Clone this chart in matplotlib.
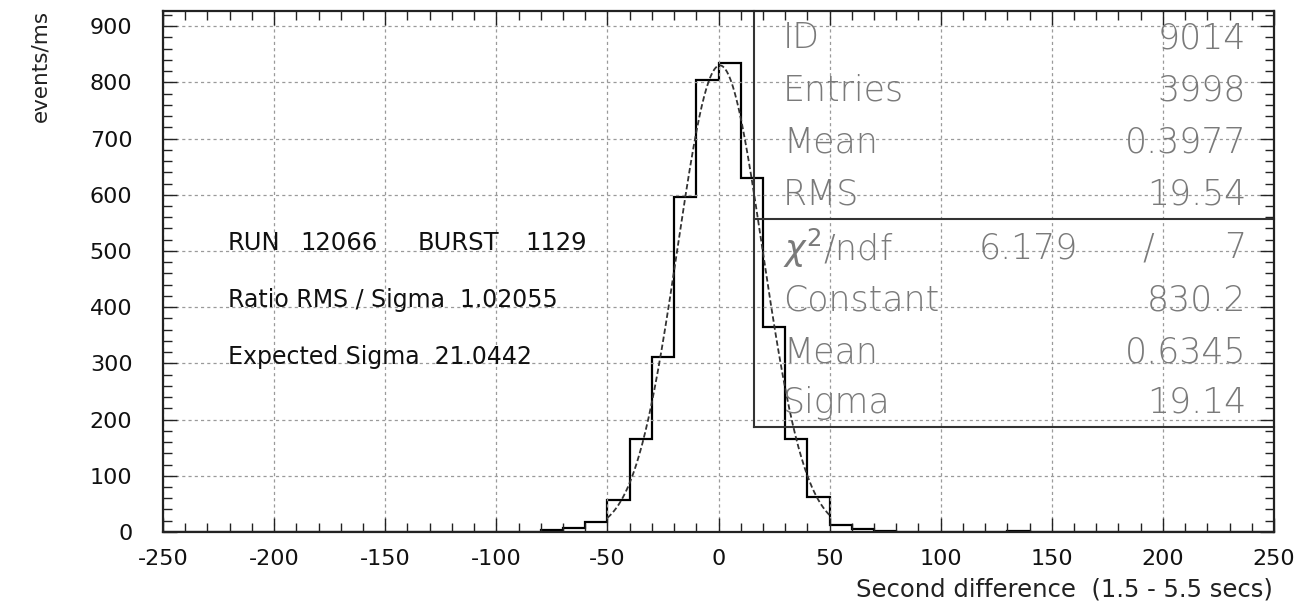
import numpy as np
import matplotlib
matplotlib.use('Agg')
import matplotlib.pyplot as plt
from matplotlib.ticker import MultipleLocator

# histogram: 10-unit bins from -250 to 250, only non-empty bins listed
bin_lo = [-80, -70, -60, -50, -40, -30, -20, -10, 0, 10, 20, 30, 40, 50, 60, 70, 130]
counts = [3, 7, 17, 57, 165, 311, 596, 804, 834, 630, 365, 165, 62, 12, 6, 2, 2]

# gaussian fit parameters
fit_const = 830.2
fit_mean = 0.6345
fit_sigma = 19.14
fit_range = (-50, 50)

stats_top = [('ID', '9014'), ('Entries', '3998'), ('Mean', '0.3977'), ('RMS', '19.54')]
stats_fit = [('Constant', '830.2'), ('Mean', '0.6345'), ('Sigma', '19.14')]
chi2, ndf = '6.179', '7'

run_words = ['RUN', '12066', 'BURST', '1129']
info_lines = ['Ratio RMS / Sigma  1.02055',
              'Expected Sigma  21.0442']

plt.rcParams['axes.unicode_minus'] = False
plt.rcParams['font.family'] = ['DejaVu Sans']

fig = plt.figure(figsize=(13.02, 6.14), dpi=100)
ax = fig.add_axes([0.1252, 0.1336, 0.8533, 0.8485])

# build full histogram
edges = np.arange(-250, 251, 10)
h = np.zeros(len(edges) - 1)
for lo, c in zip(bin_lo, counts):
    h[int((lo + 250) / 10)] = c
ax.stairs(h, edges, color='black', lw=1.6)

# fit curve
xf = np.linspace(fit_range[0], fit_range[1], 300)
yf = fit_const * np.exp(-0.5 * ((xf - fit_mean) / fit_sigma) ** 2)
ax.plot(xf, yf, color='#333333', lw=1.3, ls=(0, (3, 1.5)))

ax.set_xlim(-250, 250)
ax.set_ylim(0, 927)
ax.xaxis.set_major_locator(MultipleLocator(50))
ax.xaxis.set_minor_locator(MultipleLocator(10))
ax.yaxis.set_major_locator(MultipleLocator(100))
ax.yaxis.set_minor_locator(MultipleLocator(20))
ax.grid(True, which='major', color='#9a9a9a', ls=(0, (2.5, 2.5)), lw=0.9)

ax.tick_params(which='both', direction='in', top=True, right=True, colors='#222222', labelcolor='#111111')
ax.tick_params(which='major', length=10, width=1.0, labelsize=16)
ax.tick_params(which='minor', length=6.5, width=1.0)
ax.tick_params(axis='x', pad=12)
ax.tick_params(axis='y', pad=22)
for s in ax.spines.values():
    s.set_linewidth(1.6)
    s.set_color('#222222')

# stats boxes
bx = 0.532
ax.plot([bx, bx], [0.2015, 1], transform=ax.transAxes, color='#333333', lw=1.5, clip_on=False)
ax.plot([bx, 1], [0.601, 0.601], transform=ax.transAxes, color='#333333', lw=1.5, clip_on=False)
ax.plot([bx, 1], [0.2015, 0.2015], transform=ax.transAxes, color='#333333', lw=1.5, clip_on=False)

sfont = dict(fontsize=25, color='#7a7a7a', fontweight='ultralight', transform=ax.transAxes, va='center')
ys_top = [0.948, 0.848, 0.747, 0.647]
for (name, val), yy in zip(stats_top, ys_top):
    ax.text(0.558, yy, name, ha='left', **sfont)
    ax.text(0.975, yy, val, ha='right', **sfont)
ax.text(0.558, 0.545, r'$\chi^2$/ndf', ha='left', **sfont)
ax.text(0.779, 0.545, chi2, ha='center', **sfont)
ax.text(0.887, 0.545, '/', ha='center', **sfont)
ax.text(0.975, 0.545, ndf, ha='right', **sfont)
ys_fit = [0.445, 0.345, 0.248]
for (name, val), yy in zip(stats_fit, ys_fit):
    ax.text(0.558, yy, name, ha='left', **sfont)
    ax.text(0.975, yy, val, ha='right', **sfont)

# run info
for word, xx in zip(run_words, [0.0585, 0.1233, 0.2295, 0.3258]):
    ax.text(xx, 0.555, word, transform=ax.transAxes, fontsize=17.5, va='center', ha='left', color='#111111')
for line, yy in zip(info_lines, [0.445, 0.336]):
    ax.text(0.0585, yy, line, transform=ax.transAxes, fontsize=17, va='center', ha='left', color='#111111')

fig.text(0.0307, 0.984, 'events/ms', rotation=90, ha='center', va='top', fontsize=15.5, color='#222222')
fig.text(0.978, 0.04, 'Second difference  (1.5 - 5.5 secs)', ha='right', va='center', fontsize=17.5, color='#222222')

fig.savefig('out.png', dpi=100)
